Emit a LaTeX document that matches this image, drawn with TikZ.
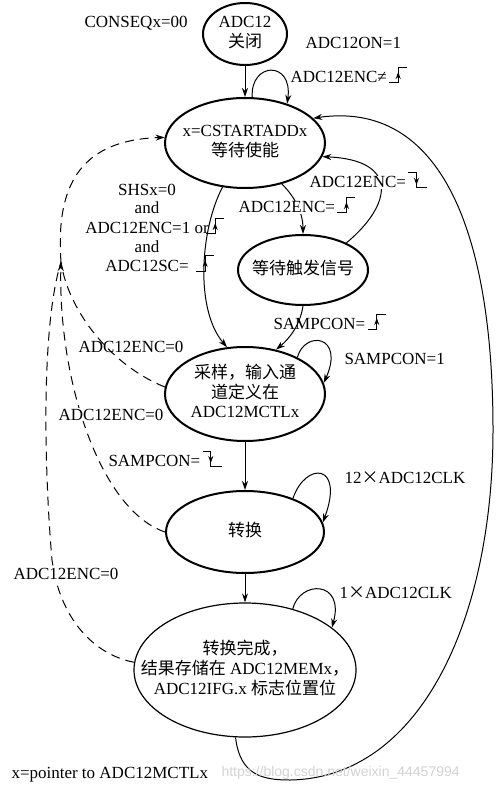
\documentclass[tikz,border=0pt]{standalone}
\usepackage{fontspec}
\setmainfont{Liberation Serif}
\newfontfamily\cjk{Noto Sans CJK SC}
\newfontfamily\wmfont{Liberation Sans}
\usetikzlibrary{arrows.meta,shapes.geometric}
\newcommand{\inellipse}[1]{\makebox[0pt]{\begin{tabular}{@{}c@{}}#1\end{tabular}}}
\tikzset{
  riseedge/.pic={
    \draw (0,0) -- (9,0) -- (9,-15) -- (18,-15);
    \draw[-{Stealth[length=7pt,width=5pt]}] (9,-1) -- (9,-11);
  },
  falledge/.pic={
    \draw (0,-15) -- (8,-15) -- (8,0) -- (19,0);
    \draw[-{Stealth[length=7pt,width=5pt]}] (8,-14) -- (8,-3);
  }
}

\begin{document}
\begin{tikzpicture}[x=1pt, y=-1pt, line width=1pt, >={Stealth[length=9pt,width=6pt]},
  font=\fontsize{17}{19}\selectfont,
  phase/.style={ellipse, draw, line width=2pt, inner sep=0pt},
  lbl/.style={anchor=base west, inner sep=1pt},
  lblw/.style={lbl, fill=white},
  ctr/.style={anchor=base, inner sep=1pt},
  ret/.style={dash pattern=on 9pt off 6pt}]
\useasboundingbox (0,0) rectangle (500,791);
% states
\node[phase, minimum width=84pt, minimum height=62pt] (off) at (245,34) {\inellipse{ADC12\\\cjk 关闭}};
\node[phase, minimum width=160pt, minimum height=90pt] (wait) at (245,143) {\inellipse{x=CSTARTADDx\\\cjk 等待使能}};
\node[phase, minimum width=130pt, minimum height=70pt] (trig) at (303,270) {\inellipse{\cjk 等待触发信号}};
\node[phase, minimum width=160pt, minimum height=94pt] (samp) at (245,394) {\inellipse{\cjk 采样，输入通\\\cjk 道定义在\\ADC12MCTLx}};
\node[phase, minimum width=158pt, minimum height=82pt] (conv) at (245,532) {\inellipse{\cjk 转换}};
\node[phase, line width=1.2pt, minimum width=222pt, minimum height=134pt] (done) at (245,670) {\inellipse{\cjk 转换完成，\\{\cjk 结果存储在} ADC12MEMx{\cjk ，}\\ADC12IFG.x {\cjk 标志位置位}}};

% main transitions
\draw[->] (off) -- (wait);
\draw[->] (wait.243) .. controls (200,230) and (195,310) .. (samp.111);
\draw[->] (wait.-48) .. controls (292,194) and (303,210) .. (trig.north);
\draw[->] (trig.32) .. controls (392,205) and (400,160) .. (wait.-10);
\draw[->] (trig.south) .. controls (300,325) and (290,338) .. (samp.55);
\draw[->] (samp) -- (conv);
\draw[->] (conv) -- (done);
\draw[->] (done.-98) .. controls (240,775) and (262,780) .. (290,780)
  .. controls (420,778) and (493,620) .. (493,430)
  .. controls (493,230) and (440,100) .. (wait.20);

% self loops
\draw[->] (wait.81) .. controls (250,62) and (293,60) .. (wait.43);
\draw[->] (samp.35) .. controls (305,330) and (345,335) .. (samp.8);
\draw[->] (conv.35) .. controls (305,462) and (345,462) .. (conv.7);
\draw[->] (done.52) .. controls (300,580) and (345,580) .. (done.26);

% ADC12ENC=0 returns
\coordinate (merge) at (61,262);
\draw[ret] (samp.175) .. controls (110,365) and (68,310) .. (merge);
\draw[ret,->] (conv.west) .. controls (100,510) and (58,380) .. (merge);
\draw[ret] (done.176) .. controls (95,655) and (60,620) .. (52,560)
  .. controls (45,480) and (40,330) .. (merge);
\draw[ret,->] (merge) .. controls (55,180) and (85,140) .. (wait.176);

% labels
\node[lbl] (conseq) at (83,28) {CONSEQx=00};
\node[lbl] (adcon) at (304,49) {ADC12ON=1};
\node[lbl] (encne) at (289,83) {ADC12ENC≠};
\pic at ([xshift=1pt]encne.base east) {riseedge};
\node[lblw] (encfall) at (308,188) {ADC12ENC=};
\pic at ([xshift=1pt]encfall.base east) {falledge};
\node[lblw] (encrise) at (237,213) {ADC12ENC=};
\pic at ([xshift=1pt]encrise.base east) {riseedge};
\node[ctr] (shs) at (147,196) {SHSx=0};
\node[ctr] (and1) at (147,214) {and};
\node[ctr] (encor) at (147,234) {ADC12ENC=1 or};
\pic at ([xshift=-4pt]encor.base east) {riseedge};
\node[ctr] (and2) at (147,252) {and};
\node[ctr] (adcsc) at (147,271) {ADC12SC=};
\pic at ([xshift=6pt]adcsc.base east) {riseedge};
\node[lbl] (samprise) at (272,329) {SAMPCON=};
\pic at ([xshift=1pt]samprise.base east) {riseedge};
\node[lbl] (samphold) at (343,364) {SAMPCON=1};
\node[lbl] (enc0a) at (77,352) {ADC12ENC=0};
\node[lblw] (enc0b) at (57,420) {ADC12ENC=0};
\node[lbl] (sampfall) at (107,466) {SAMPCON=};
\pic at ([xshift=1pt]sampfall.base east) {falledge};
\node[lbl] (clk12) at (343,483) {12{\cjk ×}ADC12CLK};
\node[lblw] (enc0c) at (12,579) {ADC12ENC=0};
\node[lbl] (clk1) at (338,598) {1{\cjk ×}ADC12CLK};
\node[lbl] (note) at (10,778) {x=pointer to ADC12MCTLx};
\node[lbl, text=gray!35, font=\wmfont\fontsize{14}{16}\selectfont] (wm) at (220,776) {https://blog.csdn.net/weixin\_44457994};
\end{tikzpicture}
\end{document}
